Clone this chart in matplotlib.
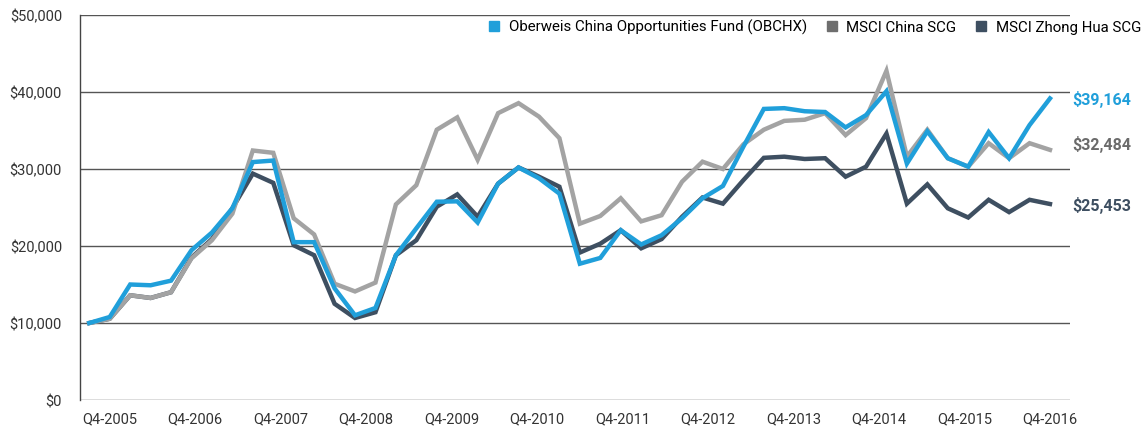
import numpy as np
import matplotlib
matplotlib.use('Agg')
import matplotlib.pyplot as plt
from matplotlib.lines import Line2D
from matplotlib.transforms import blended_transform_factory

plt.rcParams['font.family'] = ['Roboto', 'DejaVu Sans']

# growth of $10,000, one value per period
fund = [10.0, 10.78, 15.0, 14.9, 15.5, 19.45, 21.75, 24.9, 30.9, 31.1,
        20.5, 20.5, 14.5, 11.0, 11.95, 18.8, 22.3, 25.75, 25.8, 23.05,
        28.1, 30.2, 28.8, 26.8, 17.7, 18.45, 22.05, 20.2, 21.4, 23.6,
        26.2, 27.8, 32.9, 37.8, 37.9, 37.5, 37.4, 35.4, 37.0, 40.1,
        30.7, 34.9, 31.4, 30.3, 34.8, 31.4, 35.7, 39.164]
china = [10.0, 10.55, 13.6, 13.25, 14.0, 18.4, 20.75, 24.2, 32.4, 32.1,
         23.6, 21.5, 15.1, 14.1, 15.25, 25.4, 27.9, 35.1, 36.7, 31.2,
         37.25, 38.55, 36.8, 34.0, 22.9, 23.9, 26.2, 23.2, 24.0, 28.35,
         30.95, 30.0, 33.2, 35.1, 36.25, 36.4, 37.25, 34.4, 36.6, 42.75,
         31.6, 35.1, 31.4, 30.3, 33.35, 31.4, 33.35, 32.484]
zhonghua = [10.0, 10.55, 13.6, 13.25, 14.0, 18.5, 20.9, 24.9, 29.4, 28.2,
            20.1, 18.8, 12.5, 10.65, 11.4, 18.8, 20.75, 25.1, 26.7, 23.8,
            28.1, 30.2, 29.0, 27.7, 19.15, 20.3, 22.05, 19.7, 20.9, 23.8,
            26.3, 25.5, 28.55, 31.45, 31.6, 31.3, 31.4, 29.0, 30.3, 34.6,
            25.5, 28.0, 24.9, 23.7, 26.0, 24.4, 26.0, 25.453]
xlabels = ['Q4-2005', 'Q4-2006', 'Q4-2007', 'Q4-2008', 'Q4-2009', 'Q4-2010',
           'Q4-2011', 'Q4-2012', 'Q4-2013', 'Q4-2014', 'Q4-2015', 'Q4-2016']
names = ['Oberweis China Opportunities Fund (OBCHX)', 'MSCI China SCG', 'MSCI Zhong Hua SCG']

c_fund = '#209fda'
c_china = '#a3a3a3'
c_zh = '#3e4f61'

fig = plt.figure(figsize=(11.43, 4.27), dpi=100)
ax = fig.add_axes([80/1143, 1-401/427, 990/1143, 385/427])

x = np.arange(len(fund))
fund_v = np.array(fund) * 1000
china_v = np.array(china) * 1000
zh_v = np.array(zhonghua) * 1000

ax.plot(x, zh_v, color=c_zh, lw=3.2, solid_joinstyle='miter', zorder=3)
ax.plot(x, china_v, color=c_china, lw=3.2, solid_joinstyle='miter', zorder=4)
ax.plot(x, fund_v, color=c_fund, lw=3.2, solid_joinstyle='miter', zorder=5)

ax.set_xlim(-0.455, 47.98)
ax.set_ylim(0, 50000)
ax.set_yticks(np.arange(0, 50001, 10000))
ax.set_yticklabels(['${:,.0f}'.format(v) for v in np.arange(0, 50001, 10000)])
ax.yaxis.grid(True, color='#555555', lw=1)
ax.set_axisbelow(True)
ax.set_xticks(np.linspace(1, 47, 12))
ax.set_xticklabels(xlabels)
ax.tick_params(length=0, labelsize=10.5, colors='#333333')
ax.tick_params(axis='y', pad=13)
ax.tick_params(axis='x', pad=8)
for s in ['top', 'right', 'bottom']:
    ax.spines[s].set_visible(False)
ax.spines['left'].set_color('#444444')
ax.spines['left'].set_linewidth(1)

# end labels
tr = blended_transform_factory(ax.transAxes, ax.transData)
ax.text(1.002, fund_v[-1], '${:,.0f}'.format(fund_v[-1]), transform=tr, color=c_fund,
        fontsize=11.5, fontweight='bold', va='center', ha='left')
ax.text(1.002, china_v[-1] + 800, '${:,.0f}'.format(china_v[-1]), transform=tr, color='#6b6b6b',
        fontsize=11.5, fontweight='bold', va='center', ha='left')
ax.text(1.002, zh_v[-1], '${:,.0f}'.format(zh_v[-1]), transform=tr, color=c_zh,
        fontsize=11.5, fontweight='bold', va='center', ha='left')

handles = [Line2D([], [], ls='none', marker='s', ms=6.5, color=c) for c in [c_fund, '#6e6e6e', c_zh]]
fig.legend(handles, names, loc='upper right', bbox_to_anchor=(1141/1143, 1-20/427), ncol=3,
           frameon=False, fontsize=10.8, handletextpad=0.5, columnspacing=1.1,
           handlelength=1.0, borderpad=0, borderaxespad=0)

fig.savefig('out.png', dpi=100)
